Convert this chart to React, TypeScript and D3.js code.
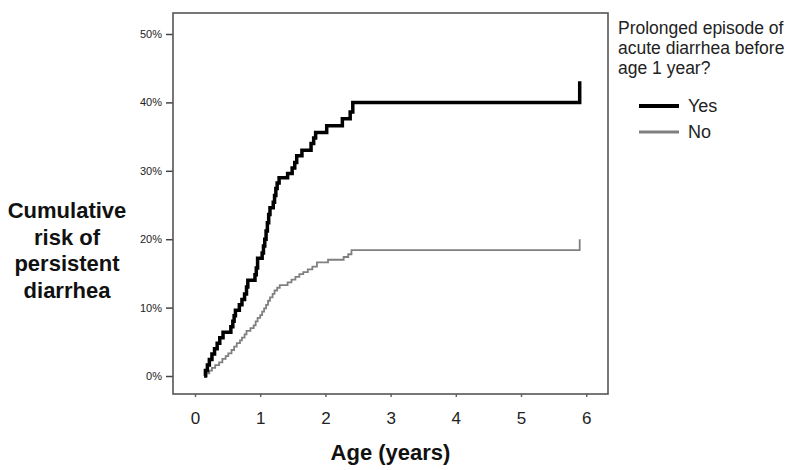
import React, { useEffect, useRef } from 'react';
import * as d3 from 'd3';

// Kaplan-Meier style step data: [age in years, cumulative risk]
const yesSeries: [number, number][] = [
  [0.14, 0.0], [0.16, 0.008], [0.19, 0.016], [0.22, 0.024], [0.26, 0.032], [0.3, 0.04],
  [0.34, 0.048], [0.38, 0.056], [0.43, 0.064], [0.55, 0.072], [0.58, 0.08], [0.6, 0.088],
  [0.62, 0.096], [0.68, 0.104], [0.72, 0.112], [0.76, 0.12], [0.79, 0.13], [0.81, 0.14],
  [0.92, 0.148], [0.94, 0.158], [0.96, 0.172], [1.03, 0.18], [1.05, 0.19], [1.07, 0.2],
  [1.09, 0.212], [1.11, 0.224], [1.13, 0.236], [1.15, 0.246], [1.2, 0.254], [1.22, 0.264],
  [1.24, 0.274], [1.26, 0.282], [1.29, 0.29], [1.42, 0.296], [1.49, 0.304], [1.53, 0.312],
  [1.56, 0.322], [1.64, 0.33], [1.78, 0.34], [1.82, 0.348], [1.85, 0.356], [2.02, 0.366],
  [2.26, 0.376], [2.38, 0.386], [2.42, 0.4], [5.9, 0.431],
];

const noSeries: [number, number][] = [
  [0.15, 0.0], [0.18, 0.004], [0.22, 0.008], [0.26, 0.012], [0.31, 0.016], [0.37, 0.02],
  [0.42, 0.025], [0.47, 0.029], [0.51, 0.033], [0.56, 0.038], [0.6, 0.043], [0.64, 0.048],
  [0.69, 0.052], [0.72, 0.056], [0.76, 0.061], [0.79, 0.066], [0.85, 0.07], [0.9, 0.074],
  [0.93, 0.08], [0.96, 0.085], [1.0, 0.089], [1.03, 0.094], [1.06, 0.099], [1.09, 0.104],
  [1.12, 0.11], [1.15, 0.115], [1.19, 0.12], [1.22, 0.125], [1.26, 0.129], [1.3, 0.133],
  [1.42, 0.137], [1.48, 0.141], [1.54, 0.145], [1.6, 0.149], [1.66, 0.152], [1.73, 0.156],
  [1.8, 0.16], [1.87, 0.166], [2.04, 0.17], [2.28, 0.174], [2.35, 0.178], [2.4, 0.184],
  [5.9, 0.2],
];

const xTicks = [0, 1, 2, 3, 4, 5, 6];
const yTicks = [0, 0.1, 0.2, 0.3, 0.4, 0.5];
const legendTitle = ['Prolonged episode of', 'acute diarrhea before', 'age 1 year?'];
const legendItems = [
  { label: 'Yes', color: '#000', width: 4 },
  { label: 'No', color: '#808080', width: 3 },
];
const yLabel = ['Cumulative', 'risk of', 'persistent', 'diarrhea'];

const W = 800, H = 470;
const FONT = 'Arial, "Liberation Sans", Helvetica, sans-serif';

export default function App() {
  const ref = useRef<SVGSVGElement>(null);

  useEffect(() => {
    const svg = d3.select(ref.current);
    svg.selectAll('*').remove();

    const left = 173, right = 608, top = 13, bottom = 394;
    const x = d3.scaleLinear().domain([-0.3374, 6.334]).range([left, right]);
    const y = d3.scaleLinear().domain([-0.0263, 0.5307]).range([bottom, top]);

    // y axis ticks
    const yAxis = svg.append('g')
      .attr('transform', `translate(${left},0)`)
      .call(d3.axisLeft(y).tickValues(yTicks).tickSize(7).tickFormat(d3.format('.0%')));
    yAxis.select('.domain').remove();
    yAxis.selectAll('line').attr('stroke', '#444').attr('stroke-width', 1.5);
    yAxis.selectAll('text').attr('font-family', FONT).attr('font-size', 11)
      .attr('fill', '#222').attr('dx', -1);

    // x axis ticks
    const xAxis = svg.append('g')
      .attr('transform', `translate(0,${bottom})`)
      .call(d3.axisBottom(x).tickValues(xTicks).tickSize(3).tickPadding(15).tickFormat(d3.format('d')));
    xAxis.select('.domain').remove();
    xAxis.selectAll('line').attr('stroke', '#666').attr('stroke-width', 1.5);
    xAxis.selectAll('text').attr('font-family', FONT).attr('font-size', 17).attr('fill', '#222');

    // frame
    svg.append('rect')
      .attr('x', left).attr('y', top)
      .attr('width', right - left).attr('height', bottom - top)
      .attr('fill', 'none').attr('stroke', '#555').attr('stroke-width', 1.6);

    const line = d3.line<[number, number]>()
      .x(d => x(d[0])).y(d => y(d[1]))
      .curve(d3.curveStepAfter);

    svg.append('path').datum(noSeries).attr('d', line)
      .attr('fill', 'none').attr('stroke', '#808080').attr('stroke-width', 1.8);
    svg.append('path').datum(yesSeries).attr('d', line)
      .attr('fill', 'none').attr('stroke', '#000').attr('stroke-width', 3.5);

    // axis titles
    svg.append('text')
      .attr('x', (left + right) / 2).attr('y', 460)
      .attr('text-anchor', 'middle').attr('font-family', FONT)
      .attr('font-size', 22).attr('font-weight', 'bold').attr('fill', '#111')
      .text('Age (years)');

    svg.append('g').selectAll('text').data(yLabel).enter().append('text')
      .attr('x', 67).attr('y', (d, i) => 218 + i * 26.7)
      .attr('text-anchor', 'middle').attr('font-family', FONT)
      .attr('font-size', 22).attr('font-weight', 'bold').attr('fill', '#111')
      .text(d => d);

    // legend
    const lg = svg.append('g');
    lg.selectAll('text.t').data(legendTitle).enter().append('text')
      .attr('class', 't')
      .attr('x', 618).attr('y', (d, i) => 34 + i * 20)
      .attr('font-family', FONT).attr('font-size', 17.5).attr('fill', '#222')
      .text(d => d);
    const items = lg.selectAll('g.item').data(legendItems).enter().append('g')
      .attr('class', 'item')
      .attr('transform', (d, i) => `translate(0,${106 + i * 26})`);
    items.append('line')
      .attr('x1', 639).attr('x2', 679).attr('y1', 0).attr('y2', 0)
      .attr('stroke', d => d.color).attr('stroke-width', d => d.width);
    items.append('text')
      .attr('x', 688).attr('y', 6)
      .attr('font-family', FONT).attr('font-size', 18).attr('fill', '#222')
      .text(d => d.label);
  }, []);

  return (
    <svg ref={ref} width={W} height={H}
      style={{ position: 'absolute', left: 0, top: 0, background: '#fff' }} />
  );
}
